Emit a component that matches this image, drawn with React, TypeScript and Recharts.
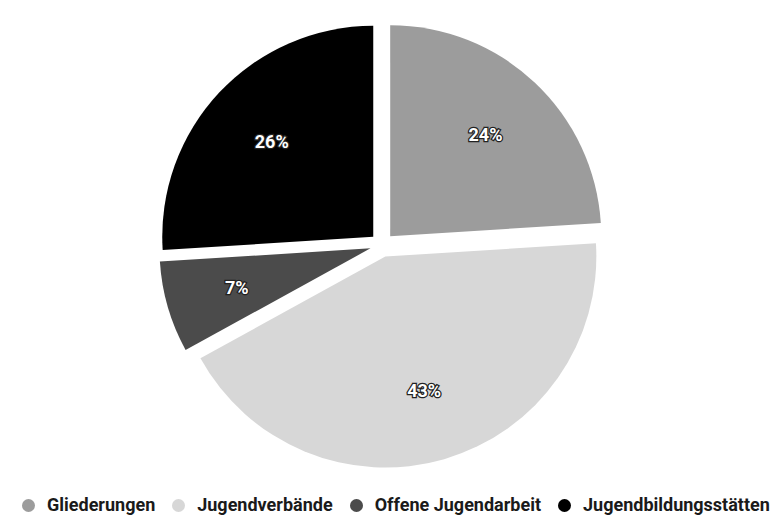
import { Cell, Legend, Pie, PieChart } from "recharts";

const CATEGORIES = [
  "Gliederungen",
  "Jugendverbände",
  "Offene Jugendarbeit",
  "Jugendbildungsstätten",
];
const SHARES = [24, 43, 7, 26];
const COLORS = ["#9c9c9c", "#d7d7d7", "#4b4b4b", "#000000"];

const WIDTH = 772;
const HEIGHT = 515;
const CX = 382;
const CY = 245;
const RADIUS = 211;
const EXPLODE = 12;
const FONT = "Roboto, 'Open Sans', sans-serif";
const RADIAN = Math.PI / 180;

const data = CATEGORIES.map((name, i) => ({ name, value: SHARES[i] }));
const total = SHARES.reduce((a, b) => a + b, 0);

// mid angle of each slice, recharts convention (deg, counter-clockwise from 3 o'clock)
const midAngles = SHARES.map((v, i) => {
  const before = SHARES.slice(0, i).reduce((a, b) => a + b, 0);
  return 90 - ((before + v / 2) / total) * 360;
});

function makeLabel(slice: number) {
  return (props: any) => {
    if (props.index !== slice) return null;
    const r = props.outerRadius * 0.66;
    const x = props.cx + r * Math.cos(-props.midAngle * RADIAN);
    const y = props.cy + r * Math.sin(-props.midAngle * RADIAN);
    return (
      <text
        x={x}
        y={y}
        textAnchor="middle"
        dominantBaseline="central"
        fill="#fff"
        stroke="#222"
        strokeWidth={2.5}
        paintOrder="stroke"
        fontFamily={FONT}
        fontWeight={700}
        fontSize={18}
      >
        {`${props.value}%`}
      </text>
    );
  };
}

function PieLegend() {
  return (
    <div
      style={{
        display: "flex",
        alignItems: "center",
        fontFamily: FONT,
        fontWeight: 700,
        fontSize: 18,
        lineHeight: "20px",
        color: "#1a1a1a",
        whiteSpace: "nowrap",
      }}
    >
      {CATEGORIES.map((name, i) => (
        <div
          key={name}
          style={{
            display: "flex",
            alignItems: "center",
            marginRight: i < CATEGORIES.length - 1 ? 17 : 0,
          }}
        >
          <span
            style={{
              width: 13,
              height: 13,
              borderRadius: "50%",
              background: COLORS[i],
              marginRight: 12,
              display: "inline-block",
            }}
          />
          <span>{name}</span>
        </div>
      ))}
    </div>
  );
}

export default function App() {
  return (
    <div
      style={{
        position: "fixed",
        left: 0,
        top: 0,
        width: WIDTH,
        height: HEIGHT,
        background: "#fff",
        overflow: "hidden",
      }}
    >
      <PieChart
        width={WIDTH}
        height={HEIGHT}
        margin={{ top: 0, right: 0, bottom: 0, left: 0 }}
      >
        {SHARES.map((_, slice) => (
          <Pie
            key={slice}
            data={data}
            dataKey="value"
            nameKey="name"
            cx={CX + EXPLODE * Math.cos(-midAngles[slice] * RADIAN)}
            cy={CY + EXPLODE * Math.sin(-midAngles[slice] * RADIAN)}
            outerRadius={RADIUS}
            startAngle={90}
            endAngle={-270}
            stroke="none"
            labelLine={false}
            label={makeLabel(slice)}
            isAnimationActive={false}
          >
            {data.map((d, i) => (
              <Cell
                key={d.name}
                fill={i === slice ? COLORS[i] : "transparent"}
                stroke="none"
              />
            ))}
          </Pie>
        ))}
        <Legend
          content={() => <PieLegend />}
          wrapperStyle={{ position: "absolute", left: 22, top: 495, width: 745 }}
        />
      </PieChart>
    </div>
  );
}
